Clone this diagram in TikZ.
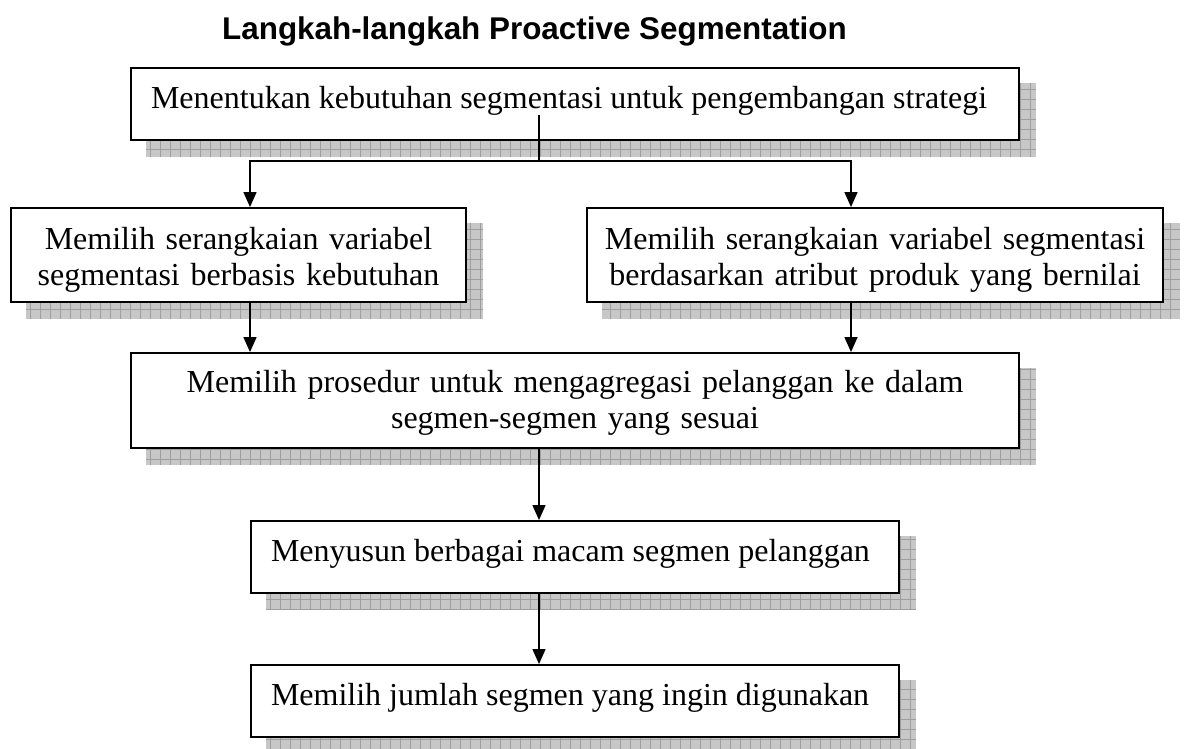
\documentclass[tikz,border=0pt]{standalone}
\usepackage{fontspec}
\setmainfont{Liberation Serif}
\newfontfamily\titlefont{Liberation Sans}
\usetikzlibrary{arrows.meta,backgrounds,calc}
\begin{document}
\begin{tikzpicture}[x=1pt,y=1pt,
  box/.style={draw=black, line width=1.8pt, fill=white, rectangle, inner sep=0pt,
    font=\fontsize{32}{36}\selectfont},
  oneline/.style={box, text height=22pt, text depth=12pt},
  twoline/.style={box, text height=28pt, text depth=38pt, align=center},
  conn/.style={line width=1.3pt},
  arr/.style={conn, -{Triangle[length=15pt,width=13pt]}},
  shadowfill/.style={fill=black!22},
  shadowgrid/.style={draw=black!38, line width=0.7pt}
]
\useasboundingbox (0,0) rectangle (1184,749);

\node[anchor=base, font=\titlefont\bfseries\fontsize{31.4}{36}\selectfont] (title) at (534.5,709)
  {Langkah-langkah Proactive Segmentation};

\node[oneline, minimum width=888pt, minimum height=72pt] (b1) at (575,645)
  {\makebox[848pt][l]{Menentukan kebutuhan segmentasi untuk pengembangan strategi}};
\node[twoline, minimum width=455pt, minimum height=94pt, text width=440pt] (b2) at (238.5,494)
  {Memilih serangkaian variabel\\segmentasi berbasis kebutuhan};
\node[twoline, minimum width=576pt, minimum height=94pt, text width=560pt] (b3) at (875,494)
  {Memilih serangkaian variabel segmentasi\\berdasarkan atribut produk yang bernilai};
\node[box, text height=25pt, text depth=40pt, align=center, minimum width=888pt, minimum height=95pt, text width=860pt] (b4) at (575,348.5)
  {Memilih prosedur untuk mengagregasi pelanggan ke dalam\\segmen-segmen yang sesuai};
\node[oneline, minimum width=648pt, minimum height=72pt] (b5) at (575,192)
  {\makebox[608pt][l]{Menyusun berbagai macam segmen pelanggan}};
\node[oneline, minimum width=648pt, minimum height=72pt] (b6) at (575,48)
  {\makebox[608pt][l]{Memilih jumlah segmen yang ingin digunakan}};

\begin{pgfonlayer}{background}
\foreach \n in {b1,b2,b3,b4,b5,b6}{
  \begin{scope}
    \clip ($(\n.south west)+(16,-16)$) rectangle ($(\n.north east)+(16,-16)$);
    \fill[shadowfill] ($(\n.south west)+(16,-16)$) rectangle ($(\n.north east)+(16,-16)$);
    \draw[shadowgrid, step=10pt] (0,0) grid (1184,749);
  \end{scope}
}
\end{pgfonlayer}

\coordinate (s1) at (539,634);
\coordinate (j) at (539,588);
\coordinate (jl) at (250,588);
\coordinate (jr) at (851,588);
\draw[conn] (s1) -- (j);
\draw[arr] (j) -- (jl) -- (jl |- b2.north);
\draw[arr] (j) -- (jr) -- (jr |- b3.north);
\draw[arr] (jl |- b2.south) -- (jl |- b4.north);
\draw[arr] (jr |- b3.south) -- (jr |- b4.north);
\draw[arr] (j |- b4.south) -- (j |- b5.north);
\draw[arr] (j |- b5.south) -- (j |- b6.north);
\end{tikzpicture}
\end{document}
